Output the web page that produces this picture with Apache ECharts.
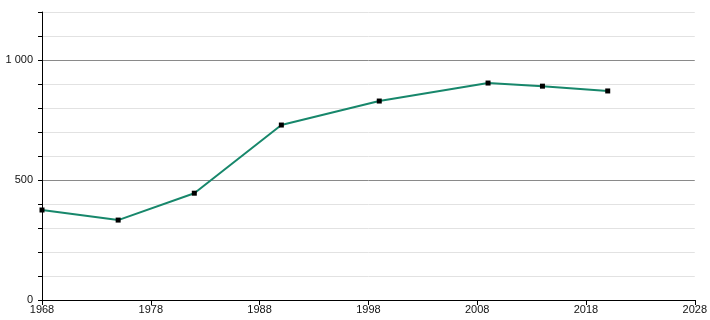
<!DOCTYPE html>
<html><head><meta charset="utf-8">
<script src="https://cdn.jsdelivr.net/npm/echarts@6/dist/echarts.min.js"></script>
<style>html,body{margin:0;padding:0;background:#fff}#c{width:710px;height:320px}</style>
</head><body><div id="c"></div>
<script>
const years = [1968, 1975, 1982, 1990, 1999, 2009, 2014, 2020];
const values = [375, 333, 445, 729, 829, 904, 891, 871];
const xTicks = [1968, 1978, 1988, 1998, 2008, 2018, 2028];
const yLabels = [0, 500, 1000];

const chart = echarts.init(document.getElementById('c'), null, {renderer: 'canvas'});
chart.setOption({
  animation: false,
  grid: {left: 42, right: 11, top: 12, bottom: 20, containLabel: false},
  xAxis: {
    type: 'value', min: 1968, max: 2028,
    axisLine: {show: true, lineStyle: {color: '#000', width: 1}},
    axisTick: {show: true, length: 5, lineStyle: {color: '#000'}, customValues: xTicks},
    axisLabel: {customValues: xTicks, color: '#111', fontSize: 11, fontFamily: 'Liberation Sans, Arial, sans-serif', margin: 4, formatter: v => String(v)},
    splitLine: {show: false}
  },
  yAxis: {
    type: 'value', min: 0, max: 1200, interval: 100,
    axisLine: {show: true, lineStyle: {color: '#000', width: 1}},
    axisTick: {show: true, length: 4, lineStyle: {color: '#000'}},
    axisLabel: {
      color: '#111', fontSize: 11, fontFamily: 'Liberation Sans, Arial, sans-serif', margin: 9,
      formatter: v => yLabels.indexOf(v) >= 0 ? String(v).replace(/\B(?=(\d{3})+(?!\d))/g, ' ') : ''
    },
    splitLine: {show: true, lineStyle: {color: ['#8a8a8a', '#e2e2e2', '#e2e2e2', '#e2e2e2', '#e2e2e2'], width: 1}}
  },
  series: [{
    type: 'line',
    data: years.map((y, i) => [y, values[i]]),
    symbol: 'rect', symbolSize: 5, showSymbol: true,
    lineStyle: {color: '#17876b', width: 2},
    itemStyle: {color: '#000'},
    z: 3
  }]
});
</script></body></html>
